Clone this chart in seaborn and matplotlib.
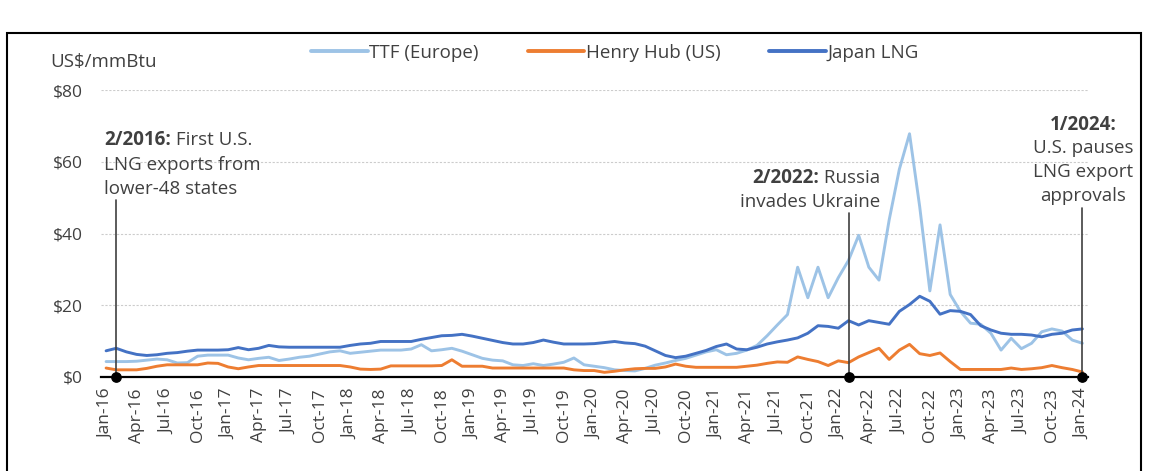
#!/usr/bin/env python3

import numpy as np
import pandas as pd
import matplotlib as mpl
mpl.use('Agg')
import matplotlib.pyplot as plt
from matplotlib.patches import Rectangle
from matplotlib.lines import Line2D
import seaborn as sns

# Monthly prices, Jan-16 .. Jan-24 (US$/mmBtu)
ttf = [
    4.3, 4.3, 4.3, 4.4, 4.7, 5.0, 4.8, 3.9, 4.0, 5.8, 6.1, 6.1,
    6.1, 5.3, 4.8, 5.2, 5.5, 4.6, 5.0, 5.5, 5.8, 6.4, 7.0, 7.3,
    6.6, 6.9, 7.2, 7.5, 7.5, 7.5, 7.8, 9.0, 7.3, 7.6, 8.0, 7.2,
    6.2, 5.2, 4.7, 4.5, 3.4, 3.2, 3.7, 3.2, 3.6, 4.1, 5.3, 3.4,
    3.0, 2.6, 2.0, 1.8, 1.7, 2.4, 3.3, 3.9, 4.6, 5.2, 6.1, 7.0,
    7.6, 6.2, 6.6, 7.5, 8.8, 11.5, 14.5, 17.4, 30.6, 22.1, 30.6, 22.1,
    27.7, 32.5, 39.5, 30.6, 27.0, 43.8, 57.9, 67.8, 47.5, 24.0, 42.4, 23.0,
    18.3, 15.0, 14.7, 12.2, 7.5, 10.8, 7.9, 9.4, 12.6, 13.4, 12.8, 10.3,
    9.4,
]
henry_hub = [
    2.5, 2.0, 2.0, 2.0, 2.4, 3.0, 3.4, 3.4, 3.4, 3.4, 3.9, 3.8,
    2.8, 2.3, 2.8, 3.2, 3.2, 3.2, 3.2, 3.2, 3.2, 3.2, 3.2, 3.2,
    2.8, 2.2, 2.1, 2.2, 3.1, 3.1, 3.1, 3.1, 3.1, 3.2, 4.8, 3.0,
    3.0, 3.0, 2.5, 2.5, 2.5, 2.5, 2.5, 2.5, 2.5, 2.5, 2.0, 1.8,
    1.8, 1.3, 1.6, 2.0, 2.3, 2.4, 2.4, 2.8, 3.6, 3.0, 2.7, 2.7,
    2.7, 2.7, 2.7, 3.0, 3.3, 3.8, 4.2, 4.1, 5.6, 4.9, 4.3, 3.2,
    4.5, 4.0, 5.6, 6.8, 8.0, 4.9, 7.5, 9.1, 6.5, 6.0, 6.7, 4.3,
    2.1, 2.1, 2.1, 2.1, 2.1, 2.5, 2.1, 2.3, 2.6, 3.2, 2.6, 2.1,
    1.4,
]
japan_lng = [
    7.3, 8.0, 7.0, 6.3, 6.0, 6.2, 6.6, 6.8, 7.2, 7.5, 7.5, 7.5,
    7.6, 8.2, 7.6, 8.0, 8.8, 8.4, 8.3, 8.3, 8.3, 8.3, 8.3, 8.3,
    8.8, 9.2, 9.4, 9.9, 9.9, 9.9, 9.9, 10.5, 11.0, 11.5, 11.6, 11.9,
    11.4, 10.8, 10.2, 9.6, 9.2, 9.2, 9.6, 10.3, 9.7, 9.2, 9.2, 9.2,
    9.3, 9.6, 9.9, 9.5, 9.3, 8.6, 7.3, 6.0, 5.4, 5.8, 6.6, 7.4,
    8.5, 9.2, 7.8, 7.6, 8.3, 9.2, 9.8, 10.3, 10.9, 12.2, 14.3, 14.1,
    13.6, 15.7, 14.5, 15.7, 15.2, 14.7, 18.3, 20.2, 22.5, 21.1, 17.5, 18.5,
    18.3, 17.4, 14.3, 13.1, 12.2, 11.9, 11.9, 11.7, 11.2, 11.9, 12.2, 13.1,
    13.4,
]
series_names = ['TTF (Europe)', 'Henry Hub (US)', 'Japan LNG']
series_colors = ['#9DC3E6', '#ED7D31', '#4472C4']

tick_months = ['Jan', 'Apr', 'Jul', 'Oct']
tick_years = list(range(16, 25))
tick_labels = [f"{m}-{y}" for y in tick_years for m in tick_months][:33]

y_ticks = [0, 20, 40, 60, 80]

# events (month index from Jan-16)
event_2016 = 1
event_2022 = 73
event_2024 = 96
events = [event_2016, event_2022, event_2024]

TEXT = '#404040'


def plot_prices(outfile='out.png'):
    sns.set_style('white')
    plt.rcParams['font.family'] = ['Open Sans', 'DejaVu Sans']

    n = len(ttf)
    d = pd.DataFrame({
        'idx': np.tile(np.arange(n), 3),
        'price': ttf + henry_hub + japan_lng,
        'series': np.repeat(series_names, n),
    })

    W, H = 1149, 471
    fig = plt.figure(figsize=(W / 100, H / 100), dpi=100)
    # axes box in pixels: x 101..1087.5, y 90..377
    ax = fig.add_axes([101 / W, 1 - 377 / H, (1087.5 - 101) / W, (377 - 90) / H])

    sns.lineplot(data=d, x='idx', y='price', hue='series', hue_order=series_names,
                 palette=series_colors, linewidth=2.1, legend=False, ax=ax)

    ax.set_xlim(-0.5, n - 0.5)
    ax.set_ylim(0, 80)
    ax.set_xlabel('')
    ax.set_ylabel('')

    # y axis
    ax.set_yticks(y_ticks)
    ax.set_yticklabels([f"${v}" for v in y_ticks], fontsize=12.5, color=TEXT)
    ax.tick_params(axis='y', length=0, pad=13)
    ax.yaxis.grid(True, color='#cccccc', linestyle=(0, (2, 1.5)), linewidth=0.8)
    ax.xaxis.grid(False)

    # x axis: labels on month centres, tick marks on boundaries
    ax.set_xticks(np.arange(0, n, 3))
    ax.set_xticklabels(tick_labels, rotation=90, fontsize=12.5, color=TEXT)
    ax.set_xticks(np.arange(-0.5, n - 1, 3), minor=True)
    ax.tick_params(axis='x', which='major', length=0, pad=8)
    ax.tick_params(axis='x', which='minor', length=7, width=1.3, color='black', direction='out')

    for s in ['left', 'top', 'right']:
        ax.spines[s].set_visible(False)
    ax.spines['bottom'].set_color('black')
    ax.spines['bottom'].set_linewidth(1.6)
    ax.spines['bottom'].set_zorder(5)

    # event markers
    for x, top in zip(events, [49.3, 45.7, 47.1]):
        ax.plot([x, x], [0, top], color=TEXT, lw=1.2, zorder=6)
    ax.scatter(events, [0] * len(events), s=45, color='black', zorder=7, clip_on=False)

    fs = 13.5
    # 2/2016
    t = ax.text(-0.2, 66.1, '2/2016:', fontsize=fs, fontweight='bold', color=TEXT,
                ha='left', va='center')
    ax.annotate(' First U.S.', xy=(1, 0.5), xycoords=t, fontsize=fs, color=TEXT,
                ha='left', va='center')
    ax.text(-0.2, 59.1, 'LNG exports from', fontsize=fs, color=TEXT, ha='left', va='center')
    ax.text(-0.2, 52.4, 'lower-48 states', fontsize=fs, color=TEXT, ha='left', va='center')

    # 2/2022
    t = ax.text(76.1, 55.5, ' Russia', fontsize=fs, color=TEXT, ha='right', va='center')
    ax.annotate('2/2022:', xy=(0, 0.5), xycoords=t, fontsize=fs, fontweight='bold',
                color=TEXT, ha='right', va='center')
    ax.text(76.1, 48.8, 'invades Ukraine', fontsize=fs, color=TEXT, ha='right', va='center')

    # 1/2024
    ax.text(96.1, 70.2, '1/2024:', fontsize=fs, fontweight='bold', color=TEXT,
            ha='center', va='center')
    for y, s in [(63.8, 'U.S. pauses'), (57.1, 'LNG export'), (50.5, 'approvals')]:
        ax.text(96.1, y, s, fontsize=fs, color=TEXT, ha='center', va='center')

    # unit label
    fig.text(50 / W, 1 - 62 / H, 'US$/mmBtu', fontsize=13.5, color=TEXT,
             ha='left', va='center')

    # legend
    handles = [Line2D([], [], color=c, lw=2.8) for c in series_colors]
    fig.legend(handles, series_names, loc='center', bbox_to_anchor=(615 / W, 1 - 53 / H),
               ncol=3, frameon=False, fontsize=13.5, handlelength=3.0,
               handletextpad=0.1, columnspacing=2.6, labelcolor=TEXT)

    # outer frame
    fig.patches.append(Rectangle((7 / W, -0.05), (1141 - 7) / W, 1 - 33 / H + 0.05,
                                 transform=fig.transFigure, fill=False,
                                 edgecolor='black', lw=1.5))

    fig.savefig(outfile, dpi=100)


if __name__ == "__main__":
    plot_prices()
